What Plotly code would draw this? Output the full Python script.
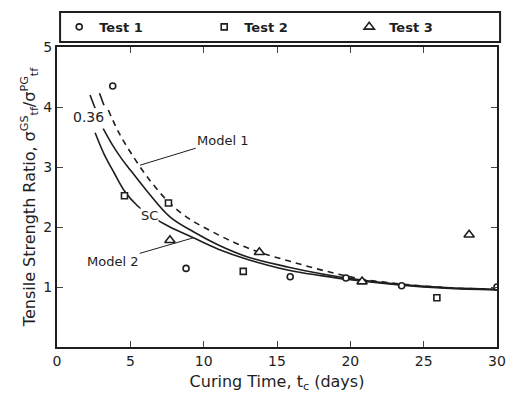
import plotly.graph_objects as go

# ---- data ----
test1_x = [3.8, 8.8, 15.9, 19.7, 23.5, 30.0]
test1_y = [4.35, 1.31, 1.17, 1.15, 1.02, 1.00]
test2_x = [4.6, 7.6, 12.7, 25.9]
test2_y = [2.52, 2.40, 1.26, 0.82]
test3_x = [7.7, 13.8, 20.8, 28.1]
test3_y = [1.78, 1.58, 1.09, 1.87]

model1_x = [3.5, 4.2, 5.0, 6.2, 7.6, 9.0, 10.6, 12.2, 13.8, 16.0, 18.4, 20.8, 23.5, 26.5, 30.0]
model1_y = [3.95, 3.58, 3.25, 2.82, 2.42, 2.14, 1.92, 1.73, 1.58, 1.42, 1.26, 1.13, 1.05, 0.99, 0.96]
sc_x = [3.15, 3.8, 4.4, 5.0, 6.2, 7.7, 9.3, 11.0, 13.0, 15.8, 18.0, 20.0, 23.5, 26.5, 30.0]
sc_y = [3.64, 3.36, 3.14, 2.95, 2.58, 2.17, 1.92, 1.70, 1.50, 1.33, 1.22, 1.14, 1.04, 0.99, 0.96]
model2_x = [2.6, 3.2, 3.9, 4.6, 5.5, 6.5, 7.7, 9.3, 11.0, 13.0, 15.8, 18.0, 20.0, 23.5, 26.5, 30.0]
model2_y = [3.57, 3.22, 2.90, 2.60, 2.35, 2.17, 2.00, 1.82, 1.63, 1.46, 1.28, 1.19, 1.12, 1.03, 0.98, 0.95]
# short curve pieces drawn above the "0.36" label
upper_x = [2.25, 2.6, None, 2.9, 3.2]
upper_y = [4.20, 3.98, None, 4.23, 4.03]

x_ticks = [0, 5, 10, 15, 20, 25, 30]
y_ticks = [1, 2, 3, 4, 5]

FONT = "DejaVu Sans"
INK = "#1e1e1e"

fig = go.Figure()
fig.add_trace(go.Scatter(x=model1_x, y=model1_y, mode="lines", line=dict(color=INK, width=1.6, dash="6px,5px", shape="spline"), showlegend=False))
fig.add_trace(go.Scatter(x=sc_x, y=sc_y, mode="lines", line=dict(color=INK, width=1.6, shape="spline"), showlegend=False))
fig.add_trace(go.Scatter(x=model2_x, y=model2_y, mode="lines", line=dict(color=INK, width=1.6, shape="spline"), showlegend=False))
fig.add_trace(go.Scatter(x=upper_x, y=upper_y, mode="lines", line=dict(color=INK, width=1.6), showlegend=False))

mk = dict(color="white", line=dict(color=INK, width=1.6))
fig.add_trace(go.Scatter(x=test1_x, y=test1_y, mode="markers", name="Test 1", marker=dict(symbol="circle", size=6, **mk)))
fig.add_trace(go.Scatter(x=test2_x, y=test2_y, mode="markers", name="Test 2", marker=dict(symbol="square", size=6, **mk)))
fig.add_trace(go.Scatter(x=test3_x, y=test3_y, mode="markers", name="Test 3", marker=dict(symbol="triangle-up", size=9, **mk)))

fig.update_layout(
    width=509, height=394,
    margin=dict(l=57, r=12, t=47, b=47),
    paper_bgcolor="white", plot_bgcolor="white",
    font=dict(family=FONT, color=INK, size=13),
    legend=dict(orientation="h", x=0.005, y=1.067, xanchor="left", yanchor="middle",
                entrywidth=100, entrywidthmode="pixels", itemwidth=30,
                font=dict(size=13, family=FONT, weight="bold"), bgcolor="rgba(0,0,0,0)"),
    xaxis=dict(range=[0, 30], tickvals=x_ticks, ticks="inside", ticklen=6, tickwidth=1.2,
               showline=True, linewidth=2, linecolor=INK, mirror="allticks", showgrid=False, zeroline=False,
               tickfont=dict(size=14), automargin=False,
               title=dict(text="Curing Time, t<sub>c</sub> (days)", font=dict(size=16), standoff=8)),
    yaxis=dict(range=[0, 5], tickvals=y_ticks, ticks="inside", ticklen=6, tickwidth=1.2,
               showline=True, linewidth=2, linecolor=INK, mirror="allticks", showgrid=False, zeroline=False,
               tickfont=dict(size=14), automargin=False,
               title=dict(text="Tensile Strength Ratio, σ<sup>GS</sup><sub>tf</sub>/σ<sup>PG</sup><sub>tf</sub>",
                          font=dict(size=16), standoff=4)),
    shapes=[dict(type="rect", xref="paper", yref="paper", x0=0.007, x1=1.007, y0=1.017, y1=1.117,
                 line=dict(color=INK, width=2), fillcolor="rgba(0,0,0,0)")],
    annotations=[
        dict(x=2.15, y=3.83, text="0.36", showarrow=False, font=dict(size=14), bgcolor="white", borderpad=0),
        dict(x=6.3, y=2.2, text="SC", showarrow=False, font=dict(size=13), bgcolor="white", borderpad=0),
        dict(x=5.66, y=3.03, ax=11.3, ay=3.45, axref="x", ayref="y", text="Model 1", showarrow=True,
             arrowhead=0, arrowwidth=1, arrowcolor=INK, font=dict(size=13), xanchor="center", standoff=0),
        dict(x=9.3, y=1.82, ax=3.8, ay=1.43, axref="x", ayref="y", text="Model 2", showarrow=True,
             arrowhead=0, arrowwidth=1, arrowcolor=INK, font=dict(size=13), standoff=0),
    ],
)

fig.write_html("out.html")
